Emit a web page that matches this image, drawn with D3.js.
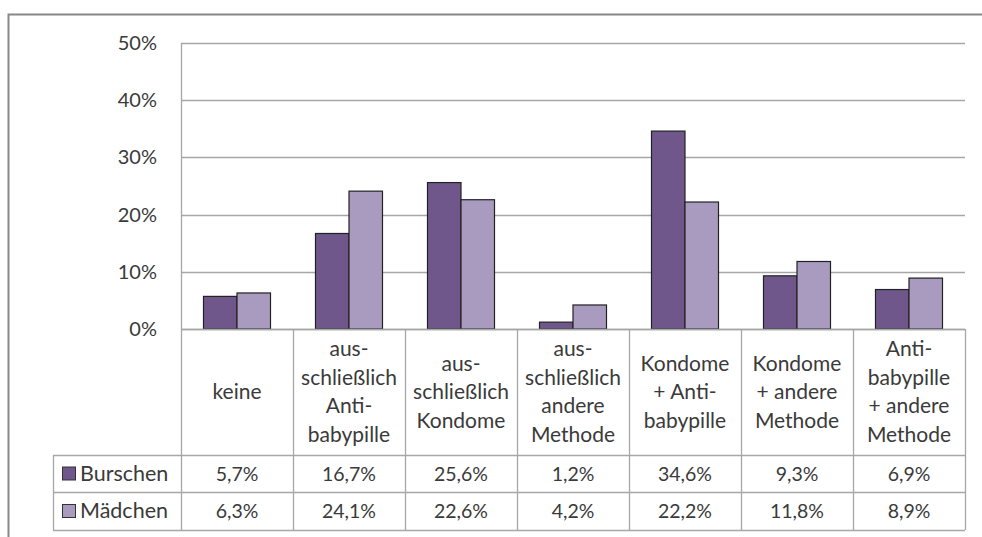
<!DOCTYPE html>
<html>
<head>
<meta charset="utf-8">
<script src="https://cdn.jsdelivr.net/npm/d3@7"></script>
<style>
  body { margin: 0; background: #fff; }
  text { font-family: Lato, "Open Sans", sans-serif; fill: #3a3a3a; }
</style>
</head>
<body>
<script>
const width = 982;
const height = 537;

const categories = [
    ["keine"],
    ["aus-", "schließlich", "Anti-", "babypille"],
    ["aus-", "schließlich", "Kondome"],
    ["aus-", "schließlich", "andere", "Methode"],
    ["Kondome", "+ Anti-", "babypille"],
    ["Kondome", "+ andere", "Methode"],
    ["Anti-", "babypille", "+ andere", "Methode"]
];
const series = ["Burschen", "Mädchen"];
const burschen = [5.7, 16.7, 25.6, 1.2, 34.6, 9.3, 6.9];
const maedchen = [6.3, 24.1, 22.6, 4.2, 22.2, 11.8, 8.9];
const yTicks = [0, 10, 20, 30, 40, 50];
const colors = ["#6f578c", "#a99bc0"];

const values = [burschen, maedchen];
const fmt = v => String(v.toFixed(1)).replace(".", ",") + "%";

const svg = d3.select("body")
    .append("svg")
    .attr("width", width)
    .attr("height", height);

// outer frame
svg.append("path")
    .attr("d", "M8.5,537 V14.5 H982")
    .style("fill", "none")
    .style("stroke", "#888")
    .style("stroke-width", 2);

const x0 = d3.scaleBand()
    .domain(d3.range(categories.length))
    .range([181, 965]);

const x1 = d3.scaleBand()
    .domain(series)
    .range([22.5, 89.5]);

const y = d3.scaleLinear()
    .domain([0, 50])
    .range([329, 43]);

// gridlines
svg.append("g")
    .selectAll("line")
    .data(yTicks)
    .enter()
    .append("line")
    .attr("x1", 181)
    .attr("x2", 965)
    .attr("y1", d => Math.round(y(d)) + 0.5)
    .attr("y2", d => Math.round(y(d)) + 0.5)
    .style("stroke", "#a6a6a6")
    .style("stroke-width", 1.3);

svg.append("line")
    .attr("x1", 181.5).attr("x2", 181.5)
    .attr("y1", y(50)).attr("y2", 530)
    .style("stroke", "#a6a6a6")
    .style("stroke-width", 1.3);

svg.append("g")
    .selectAll("text")
    .data(yTicks)
    .enter()
    .append("text")
    .attr("x", 157)
    .attr("y", d => y(d) + 7)
    .attr("text-anchor", "end")
    .style("font-size", "20px")
    .text(d => d + "%");

// bars
series.forEach((s, i) => {
    svg.append("g")
        .selectAll("rect")
        .data(values[i])
        .enter()
        .append("rect")
        .attr("x", (d, j) => x0(j) + x1(s))
        .attr("y", d => y(d))
        .attr("width", x1.bandwidth())
        .attr("height", d => y(0) - y(d))
        .style("fill", colors[i])
        .style("stroke", "#222")
        .style("stroke-width", 1.2);
});

// table
const headTop = 329, headBot = 455, row1 = 492, row2 = 530, tableLeft = 53;
const grid = svg.append("g")
    .style("stroke", "#a6a6a6")
    .style("stroke-width", 1.3);

[headBot, row1, row2].forEach(yy => {
    grid.append("line")
        .attr("x1", tableLeft).attr("x2", 965)
        .attr("y1", yy + 0.5).attr("y2", yy + 0.5);
});
grid.append("line")
    .attr("x1", 181).attr("x2", 965)
    .attr("y1", headTop + 0.5).attr("y2", headTop + 0.5);
grid.append("line")
    .attr("x1", tableLeft + 0.5).attr("x2", tableLeft + 0.5)
    .attr("y1", headBot).attr("y2", row2);
d3.range(1, categories.length + 1).forEach(j => {
    const xx = j < categories.length ? x0(j) : 965;
    grid.append("line")
        .attr("x1", xx + 0.5).attr("x2", xx + 0.5)
        .attr("y1", headTop).attr("y2", row2);
});

// category headers
const lineH = 28.5;
categories.forEach((lines, j) => {
    const cx = x0(j) + x0.bandwidth() / 2;
    const cy = (headTop + headBot) / 2;
    const t = svg.append("text")
        .attr("text-anchor", "middle")
        .style("font-size", "21px");
    lines.forEach((l, k) => {
        t.append("tspan")
            .attr("x", cx)
            .attr("y", cy + (k - (lines.length - 1) / 2) * lineH + 7)
            .text(l);
    });
});

// value rows with legend keys
const rowMid = [(headBot + row1) / 2, (row1 + row2) / 2];
series.forEach((s, i) => {
    svg.append("rect")
        .attr("x", 62.5)
        .attr("y", rowMid[i] - 6.5)
        .attr("width", 13)
        .attr("height", 13)
        .style("fill", colors[i])
        .style("stroke", "#333")
        .style("stroke-width", 1);
    svg.append("text")
        .attr("x", 80)
        .attr("y", rowMid[i] + 7)
        .style("font-size", "21.5px")
        .text(s);
    svg.append("g")
        .selectAll("text")
        .data(values[i])
        .enter()
        .append("text")
        .attr("x", (d, j) => x0(j) + x0.bandwidth() / 2)
        .attr("y", rowMid[i] + 7)
        .attr("text-anchor", "middle")
        .style("font-size", "19.5px")
        .text(d => fmt(d));
});
</script>
</body>
</html>
